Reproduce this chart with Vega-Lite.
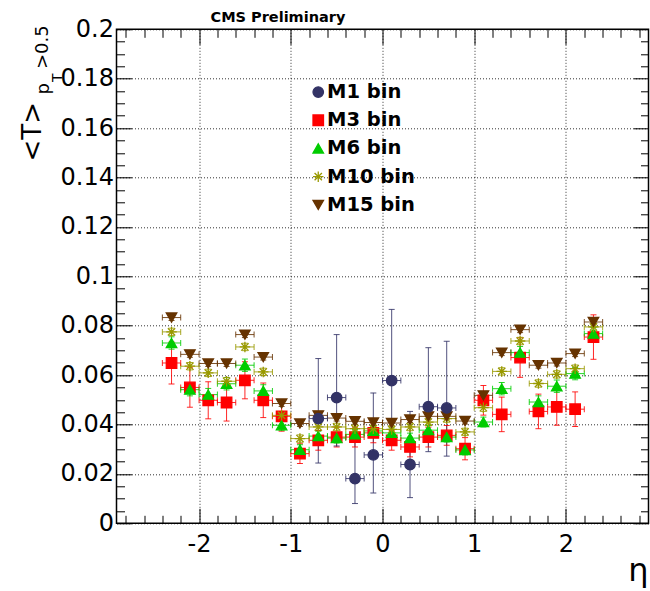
{
  "$schema": "https://vega.github.io/schema/vega-lite/v6.json",
  "width": 532,
  "height": 494,
  "autosize": {"type": "none"},
  "padding": {"left": 116.5, "top": 29.3, "right": 1.5, "bottom": 67.7},
  "background": "white",
  "config": {
    "view": {"stroke": "black", "strokeWidth": 1.5},
    "font": "DejaVu Sans"
  },
  "data": {"values": [
    {"s":"M3 bin","eta":-2.3,"v":0.0649,"lo":0.0564,"hi":0.0734,"xlo":-2.4,"xhi":-2.2},
    {"s":"M3 bin","eta":-2.1,"v":0.0550,"lo":0.0470,"hi":0.0630,"xlo":-2.2,"xhi":-2.0},
    {"s":"M3 bin","eta":-1.9,"v":0.0498,"lo":0.0423,"hi":0.0573,"xlo":-2.0,"xhi":-1.8},
    {"s":"M3 bin","eta":-1.7,"v":0.0489,"lo":0.0414,"hi":0.0564,"xlo":-1.8,"xhi":-1.6},
    {"s":"M3 bin","eta":-1.5,"v":0.0579,"lo":0.0504,"hi":0.0654,"xlo":-1.6,"xhi":-1.4},
    {"s":"M3 bin","eta":-1.3,"v":0.0498,"lo":0.0428,"hi":0.0568,"xlo":-1.4,"xhi":-1.2},
    {"s":"M3 bin","eta":-1.1,"v":0.0433,"lo":0.0373,"hi":0.0493,"xlo":-1.2,"xhi":-1.0},
    {"s":"M3 bin","eta":-0.9,"v":0.0282,"lo":0.0242,"hi":0.0322,"xlo":-1.0,"xhi":-0.8},
    {"s":"M3 bin","eta":-0.7,"v":0.0336,"lo":0.0296,"hi":0.0376,"xlo":-0.8,"xhi":-0.6},
    {"s":"M3 bin","eta":-0.5,"v":0.0349,"lo":0.0309,"hi":0.0389,"xlo":-0.6,"xhi":-0.4},
    {"s":"M3 bin","eta":-0.3,"v":0.0349,"lo":0.0309,"hi":0.0389,"xlo":-0.4,"xhi":-0.2},
    {"s":"M3 bin","eta":-0.1,"v":0.0366,"lo":0.0326,"hi":0.0406,"xlo":-0.2,"xhi":0.0},
    {"s":"M3 bin","eta":0.1,"v":0.0336,"lo":0.0296,"hi":0.0376,"xlo":0.0,"xhi":0.2},
    {"s":"M3 bin","eta":0.3,"v":0.0309,"lo":0.0269,"hi":0.0349,"xlo":0.2,"xhi":0.4},
    {"s":"M3 bin","eta":0.5,"v":0.0349,"lo":0.0309,"hi":0.0389,"xlo":0.4,"xhi":0.6},
    {"s":"M3 bin","eta":0.7,"v":0.0356,"lo":0.0316,"hi":0.0396,"xlo":0.6,"xhi":0.8},
    {"s":"M3 bin","eta":0.9,"v":0.0302,"lo":0.0257,"hi":0.0347,"xlo":0.8,"xhi":1.0},
    {"s":"M3 bin","eta":1.1,"v":0.0498,"lo":0.0438,"hi":0.0558,"xlo":1.0,"xhi":1.2},
    {"s":"M3 bin","eta":1.3,"v":0.0441,"lo":0.0371,"hi":0.0511,"xlo":1.2,"xhi":1.4},
    {"s":"M3 bin","eta":1.5,"v":0.0671,"lo":0.0591,"hi":0.0751,"xlo":1.4,"xhi":1.6},
    {"s":"M3 bin","eta":1.7,"v":0.0453,"lo":0.0383,"hi":0.0523,"xlo":1.6,"xhi":1.8},
    {"s":"M3 bin","eta":1.9,"v":0.0471,"lo":0.0397,"hi":0.0545,"xlo":1.8,"xhi":2.0},
    {"s":"M3 bin","eta":2.1,"v":0.0462,"lo":0.0392,"hi":0.0532,"xlo":2.0,"xhi":2.2},
    {"s":"M3 bin","eta":2.3,"v":0.0754,"lo":0.0664,"hi":0.0844,"xlo":2.2,"xhi":2.4},
    {"s":"M6 bin","eta":-2.3,"v":0.0730,"lo":0.0705,"hi":0.0755,"xlo":-2.4,"xhi":-2.2},
    {"s":"M6 bin","eta":-2.1,"v":0.0541,"lo":0.0516,"hi":0.0566,"xlo":-2.2,"xhi":-2.0},
    {"s":"M6 bin","eta":-1.9,"v":0.0521,"lo":0.0496,"hi":0.0546,"xlo":-2.0,"xhi":-1.8},
    {"s":"M6 bin","eta":-1.7,"v":0.0565,"lo":0.0540,"hi":0.0590,"xlo":-1.8,"xhi":-1.6},
    {"s":"M6 bin","eta":-1.5,"v":0.0640,"lo":0.0615,"hi":0.0665,"xlo":-1.6,"xhi":-1.4},
    {"s":"M6 bin","eta":-1.3,"v":0.0536,"lo":0.0511,"hi":0.0561,"xlo":-1.4,"xhi":-1.2},
    {"s":"M6 bin","eta":-1.1,"v":0.0397,"lo":0.0377,"hi":0.0417,"xlo":-1.2,"xhi":-1.0},
    {"s":"M6 bin","eta":-0.9,"v":0.0298,"lo":0.0278,"hi":0.0318,"xlo":-1.0,"xhi":-0.8},
    {"s":"M6 bin","eta":-0.7,"v":0.0353,"lo":0.0333,"hi":0.0373,"xlo":-0.8,"xhi":-0.6},
    {"s":"M6 bin","eta":-0.5,"v":0.0345,"lo":0.0325,"hi":0.0365,"xlo":-0.6,"xhi":-0.4},
    {"s":"M6 bin","eta":-0.3,"v":0.0360,"lo":0.0340,"hi":0.0380,"xlo":-0.4,"xhi":-0.2},
    {"s":"M6 bin","eta":-0.1,"v":0.0374,"lo":0.0354,"hi":0.0394,"xlo":-0.2,"xhi":0.0},
    {"s":"M6 bin","eta":0.1,"v":0.0366,"lo":0.0346,"hi":0.0386,"xlo":0.0,"xhi":0.2},
    {"s":"M6 bin","eta":0.3,"v":0.0345,"lo":0.0325,"hi":0.0365,"xlo":0.2,"xhi":0.4},
    {"s":"M6 bin","eta":0.5,"v":0.0377,"lo":0.0357,"hi":0.0397,"xlo":0.4,"xhi":0.6},
    {"s":"M6 bin","eta":0.7,"v":0.0349,"lo":0.0329,"hi":0.0369,"xlo":0.6,"xhi":0.8},
    {"s":"M6 bin","eta":0.9,"v":0.0297,"lo":0.0277,"hi":0.0317,"xlo":0.8,"xhi":1.0},
    {"s":"M6 bin","eta":1.1,"v":0.0410,"lo":0.0390,"hi":0.0430,"xlo":1.0,"xhi":1.2},
    {"s":"M6 bin","eta":1.3,"v":0.0545,"lo":0.0520,"hi":0.0570,"xlo":1.2,"xhi":1.4},
    {"s":"M6 bin","eta":1.5,"v":0.0691,"lo":0.0666,"hi":0.0716,"xlo":1.4,"xhi":1.6},
    {"s":"M6 bin","eta":1.7,"v":0.0491,"lo":0.0466,"hi":0.0516,"xlo":1.6,"xhi":1.8},
    {"s":"M6 bin","eta":1.9,"v":0.0555,"lo":0.0530,"hi":0.0580,"xlo":1.8,"xhi":2.0},
    {"s":"M6 bin","eta":2.1,"v":0.0606,"lo":0.0581,"hi":0.0631,"xlo":2.0,"xhi":2.2},
    {"s":"M6 bin","eta":2.3,"v":0.0768,"lo":0.0743,"hi":0.0793,"xlo":2.2,"xhi":2.4},
    {"s":"M10 bin","eta":-2.3,"v":0.0775,"lo":0.0760,"hi":0.0790,"xlo":-2.4,"xhi":-2.2},
    {"s":"M10 bin","eta":-2.1,"v":0.0636,"lo":0.0621,"hi":0.0651,"xlo":-2.2,"xhi":-2.0},
    {"s":"M10 bin","eta":-1.9,"v":0.0609,"lo":0.0594,"hi":0.0624,"xlo":-2.0,"xhi":-1.8},
    {"s":"M10 bin","eta":-1.7,"v":0.0575,"lo":0.0560,"hi":0.0590,"xlo":-1.8,"xhi":-1.6},
    {"s":"M10 bin","eta":-1.5,"v":0.0714,"lo":0.0699,"hi":0.0729,"xlo":-1.6,"xhi":-1.4},
    {"s":"M10 bin","eta":-1.3,"v":0.0613,"lo":0.0598,"hi":0.0628,"xlo":-1.4,"xhi":-1.2},
    {"s":"M10 bin","eta":-1.1,"v":0.0437,"lo":0.0422,"hi":0.0452,"xlo":-1.2,"xhi":-1.0},
    {"s":"M10 bin","eta":-0.9,"v":0.0343,"lo":0.0328,"hi":0.0358,"xlo":-1.0,"xhi":-0.8},
    {"s":"M10 bin","eta":-0.7,"v":0.0390,"lo":0.0375,"hi":0.0405,"xlo":-0.8,"xhi":-0.6},
    {"s":"M10 bin","eta":-0.5,"v":0.0390,"lo":0.0375,"hi":0.0405,"xlo":-0.6,"xhi":-0.4},
    {"s":"M10 bin","eta":-0.3,"v":0.0383,"lo":0.0368,"hi":0.0398,"xlo":-0.4,"xhi":-0.2},
    {"s":"M10 bin","eta":-0.1,"v":0.0383,"lo":0.0368,"hi":0.0398,"xlo":-0.2,"xhi":0.0},
    {"s":"M10 bin","eta":0.1,"v":0.0380,"lo":0.0365,"hi":0.0395,"xlo":0.0,"xhi":0.2},
    {"s":"M10 bin","eta":0.3,"v":0.0390,"lo":0.0375,"hi":0.0405,"xlo":0.2,"xhi":0.4},
    {"s":"M10 bin","eta":0.5,"v":0.0410,"lo":0.0395,"hi":0.0425,"xlo":0.4,"xhi":0.6},
    {"s":"M10 bin","eta":0.7,"v":0.0424,"lo":0.0409,"hi":0.0439,"xlo":0.6,"xhi":0.8},
    {"s":"M10 bin","eta":0.9,"v":0.0370,"lo":0.0355,"hi":0.0385,"xlo":0.8,"xhi":1.0},
    {"s":"M10 bin","eta":1.1,"v":0.0468,"lo":0.0453,"hi":0.0483,"xlo":1.0,"xhi":1.2},
    {"s":"M10 bin","eta":1.3,"v":0.0615,"lo":0.0600,"hi":0.0630,"xlo":1.2,"xhi":1.4},
    {"s":"M10 bin","eta":1.5,"v":0.0738,"lo":0.0723,"hi":0.0753,"xlo":1.4,"xhi":1.6},
    {"s":"M10 bin","eta":1.7,"v":0.0566,"lo":0.0551,"hi":0.0581,"xlo":1.6,"xhi":1.8},
    {"s":"M10 bin","eta":1.9,"v":0.0603,"lo":0.0588,"hi":0.0618,"xlo":1.8,"xhi":2.0},
    {"s":"M10 bin","eta":2.1,"v":0.0626,"lo":0.0611,"hi":0.0641,"xlo":2.0,"xhi":2.2},
    {"s":"M10 bin","eta":2.3,"v":0.0795,"lo":0.0780,"hi":0.0810,"xlo":2.2,"xhi":2.4},
    {"s":"M15 bin","eta":-2.3,"v":0.0833,"lo":0.0821,"hi":0.0845,"xlo":-2.4,"xhi":-2.2},
    {"s":"M15 bin","eta":-2.1,"v":0.0684,"lo":0.0672,"hi":0.0696,"xlo":-2.2,"xhi":-2.0},
    {"s":"M15 bin","eta":-1.9,"v":0.0647,"lo":0.0635,"hi":0.0659,"xlo":-2.0,"xhi":-1.8},
    {"s":"M15 bin","eta":-1.7,"v":0.0647,"lo":0.0635,"hi":0.0659,"xlo":-1.8,"xhi":-1.6},
    {"s":"M15 bin","eta":-1.5,"v":0.0764,"lo":0.0752,"hi":0.0776,"xlo":-1.6,"xhi":-1.4},
    {"s":"M15 bin","eta":-1.3,"v":0.0673,"lo":0.0661,"hi":0.0685,"xlo":-1.4,"xhi":-1.2},
    {"s":"M15 bin","eta":-1.1,"v":0.0485,"lo":0.0473,"hi":0.0497,"xlo":-1.2,"xhi":-1.0},
    {"s":"M15 bin","eta":-0.9,"v":0.0404,"lo":0.0392,"hi":0.0416,"xlo":-1.0,"xhi":-0.8},
    {"s":"M15 bin","eta":-0.7,"v":0.0437,"lo":0.0425,"hi":0.0449,"xlo":-0.8,"xhi":-0.6},
    {"s":"M15 bin","eta":-0.5,"v":0.0426,"lo":0.0414,"hi":0.0438,"xlo":-0.6,"xhi":-0.4},
    {"s":"M15 bin","eta":-0.3,"v":0.0413,"lo":0.0401,"hi":0.0425,"xlo":-0.4,"xhi":-0.2},
    {"s":"M15 bin","eta":-0.1,"v":0.0408,"lo":0.0396,"hi":0.0420,"xlo":-0.2,"xhi":0.0},
    {"s":"M15 bin","eta":0.1,"v":0.0406,"lo":0.0394,"hi":0.0418,"xlo":0.0,"xhi":0.2},
    {"s":"M15 bin","eta":0.3,"v":0.0420,"lo":0.0408,"hi":0.0432,"xlo":0.2,"xhi":0.4},
    {"s":"M15 bin","eta":0.5,"v":0.0433,"lo":0.0421,"hi":0.0445,"xlo":0.4,"xhi":0.6},
    {"s":"M15 bin","eta":0.7,"v":0.0433,"lo":0.0421,"hi":0.0445,"xlo":0.6,"xhi":0.8},
    {"s":"M15 bin","eta":0.9,"v":0.0414,"lo":0.0402,"hi":0.0426,"xlo":0.8,"xhi":1.0},
    {"s":"M15 bin","eta":1.1,"v":0.0518,"lo":0.0506,"hi":0.0530,"xlo":1.0,"xhi":1.2},
    {"s":"M15 bin","eta":1.3,"v":0.0691,"lo":0.0679,"hi":0.0703,"xlo":1.2,"xhi":1.4},
    {"s":"M15 bin","eta":1.5,"v":0.0784,"lo":0.0772,"hi":0.0796,"xlo":1.4,"xhi":1.6},
    {"s":"M15 bin","eta":1.7,"v":0.0640,"lo":0.0628,"hi":0.0652,"xlo":1.6,"xhi":1.8},
    {"s":"M15 bin","eta":1.9,"v":0.0649,"lo":0.0637,"hi":0.0661,"xlo":1.8,"xhi":2.0},
    {"s":"M15 bin","eta":2.1,"v":0.0687,"lo":0.0675,"hi":0.0699,"xlo":2.0,"xhi":2.2},
    {"s":"M15 bin","eta":2.3,"v":0.0815,"lo":0.0803,"hi":0.0827,"xlo":2.2,"xhi":2.4},
    {"s":"M1 bin","eta":-0.7,"v":0.0424,"lo":0.0244,"hi":0.0667,"xlo":-0.8,"xhi":-0.6},
    {"s":"M1 bin","eta":-0.5,"v":0.0509,"lo":0.0313,"hi":0.0764,"xlo":-0.6,"xhi":-0.4},
    {"s":"M1 bin","eta":-0.3,"v":0.0181,"lo":0.0080,"hi":0.0349,"xlo":-0.4,"xhi":-0.2},
    {"s":"M1 bin","eta":-0.1,"v":0.0277,"lo":0.0123,"hi":0.0528,"xlo":-0.2,"xhi":0.0},
    {"s":"M1 bin","eta":0.1,"v":0.0578,"lo":0.0353,"hi":0.0866,"xlo":0.0,"xhi":0.2},
    {"s":"M1 bin","eta":0.3,"v":0.0238,"lo":0.0104,"hi":0.0453,"xlo":0.2,"xhi":0.4},
    {"s":"M1 bin","eta":0.5,"v":0.0472,"lo":0.0290,"hi":0.0711,"xlo":0.4,"xhi":0.6},
    {"s":"M1 bin","eta":0.7,"v":0.0467,"lo":0.0272,"hi":0.0737,"xlo":0.6,"xhi":0.8}
  ]},
  "resolve": {"axis": {"x": "independent", "y": "independent"}},
  "layer": [
    {
      "mark": {"type": "rule", "strokeWidth": 1, "opacity": 0.85},
      "encoding": {
        "x": {"field": "xlo", "type": "quantitative", "scale": {"domain": [-2.9, 2.9], "nice": false, "zero": false},
          "axis": {"orient": "bottom", "values": [-2, -1, 0, 1, 2], "labelExpr": "'' + datum.value", "labelFont": "DejaVu Sans", "labelFontSize": 24, "labelColor": "black", "labelPadding": 9, "labelFlush": false, "labelOverlap": false, "ticks": false, "domain": false, "grid": true, "gridColor": "black", "gridDash": [1, 2], "gridOpacity": 0.8, "gridWidth": 1, "title": "η", "titleFont": "DejaVu Sans", "titleFontSize": 32, "titleFontWeight": "normal", "titleColor": "black", "titleAlign": "right", "titleBaseline": "alphabetic", "titleAngle": 0, "titleX": 531.5, "titleY": 57}},
        "x2": {"field": "xhi"},
        "y": {"field": "v", "type": "quantitative", "scale": {"domain": [0, 0.2], "nice": false, "zero": false},
          "axis": {"orient": "left", "values": [0, 0.02, 0.04, 0.06, 0.08, 0.1, 0.12, 0.14, 0.16, 0.18, 0.2], "labelExpr": "'' + datum.value", "labelFont": "DejaVu Sans", "labelFontSize": 24, "labelColor": "black", "labelPadding": 3, "labelFlush": false, "labelOverlap": false, "ticks": false, "domain": false, "grid": true, "gridColor": "black", "gridDash": [1, 2], "gridOpacity": 0.8, "gridWidth": 1, "title": "<T>", "titleFont": "DejaVu Sans", "titleFontSize": 26, "titleFontWeight": "normal", "titleColor": "black", "titleAngle": -90, "titleAlign": "center", "titleBaseline": "alphabetic", "titleX": -76.5, "titleY": 102}},
        "stroke": {"field": "s", "type": "nominal", "scale": {"domain": ["M15 bin", "M10 bin", "M6 bin", "M3 bin", "M1 bin"], "range": ["#663300", "#999900", "#00cc00", "#ff0000", "#333366"]}, "legend": null}
      }
    },
    {
      "mark": {"type": "rule", "strokeWidth": 1, "opacity": 0.85},
      "encoding": {
        "x": {"field": "eta", "type": "quantitative", "scale": {"domain": [-2.9, 2.9], "nice": false, "zero": false},
          "axis": {"orient": "bottom", "values": [-2, -1, 0, 1, 2], "labels": false, "domain": false, "grid": false, "ticks": true, "tickColor": "black", "tickWidth": 1, "tickSize": 15, "offset": -15, "title": null}},
        "y": {"field": "lo", "type": "quantitative", "scale": {"domain": [0, 0.2], "nice": false, "zero": false},
          "axis": {"orient": "left", "values": [0, 0.02, 0.04, 0.06, 0.08, 0.1, 0.12, 0.14, 0.16, 0.18, 0.2], "labels": false, "domain": false, "grid": false, "ticks": true, "tickColor": "black", "tickWidth": 1, "tickSize": 15, "offset": -15, "title": "p", "titleFont": "DejaVu Sans", "titleFontSize": 18, "titleFontWeight": "normal", "titleColor": "black", "titleAngle": -90, "titleAlign": "left", "titleBaseline": "alphabetic", "titleX": -82.7, "titleY": 64.7}},
        "y2": {"field": "hi"},
        "stroke": {"field": "s", "type": "nominal", "legend": null}
      }
    },
    {
      "mark": {"type": "tick", "orient": "vertical", "size": 6, "thickness": 1, "opacity": 0.85},
      "encoding": {
        "x": {"field": "xlo", "type": "quantitative", "scale": {"domain": [-2.9, 2.9], "nice": false, "zero": false},
          "axis": {"orient": "bottom", "values": [-2.8, -2.6, -2.4, -2.2, -1.8, -1.6, -1.4, -1.2, -0.8, -0.6, -0.4, -0.2, 0.2, 0.4, 0.6, 0.8, 1.2, 1.4, 1.6, 1.8, 2.2, 2.4, 2.6, 2.8], "labels": false, "domain": false, "grid": false, "ticks": true, "tickColor": "black", "tickWidth": 1, "tickSize": 8, "offset": -8, "title": null}},
        "y": {"field": "v", "type": "quantitative", "scale": {"domain": [0, 0.2], "nice": false, "zero": false},
          "axis": {"orient": "left", "values": [0.005, 0.01, 0.015, 0.025, 0.03, 0.035, 0.045, 0.05, 0.055, 0.065, 0.07, 0.075, 0.085, 0.09, 0.095, 0.105, 0.11, 0.115, 0.125, 0.13, 0.135, 0.145, 0.15, 0.155, 0.165, 0.17, 0.175, 0.185, 0.19, 0.195], "labels": false, "domain": false, "grid": false, "ticks": true, "tickColor": "black", "tickWidth": 1, "tickSize": 8, "offset": -8, "title": "T", "titleFont": "DejaVu Sans", "titleFontSize": 14, "titleFontWeight": "normal", "titleColor": "black", "titleAngle": -90, "titleAlign": "left", "titleBaseline": "alphabetic", "titleX": -63, "titleY": 52.2}},
        "fill": {"field": "s", "type": "nominal", "scale": {"domain": ["M15 bin", "M10 bin", "M6 bin", "M3 bin", "M1 bin"], "range": ["#663300", "#999900", "#00cc00", "#ff0000", "#333366"]}, "legend": null}
      }
    },
    {
      "mark": {"type": "tick", "orient": "vertical", "size": 6, "thickness": 1, "opacity": 0.85},
      "encoding": {
        "x": {"field": "xhi", "type": "quantitative", "scale": {"domain": [-2.9, 2.9], "nice": false, "zero": false},
          "axis": {"orient": "top", "values": [-2, -1, 0, 1, 2], "labels": false, "domain": false, "grid": false, "ticks": true, "tickColor": "black", "tickWidth": 1, "tickSize": 15, "offset": -15, "title": "CMS Preliminary", "titleFont": "DejaVu Sans", "titleFontSize": 14.5, "titleFontWeight": "bold", "titleColor": "black", "titleAngle": 0, "titleAlign": "left", "titleBaseline": "alphabetic", "titleX": 93.5, "titleY": -23.3}},
        "y": {"field": "v", "type": "quantitative", "scale": {"domain": [0, 0.2], "nice": false, "zero": false},
          "axis": {"orient": "right", "values": [0, 0.02, 0.04, 0.06, 0.08, 0.1, 0.12, 0.14, 0.16, 0.18, 0.2], "labels": false, "domain": false, "grid": false, "ticks": true, "tickColor": "black", "tickWidth": 1, "tickSize": 15, "offset": -15, "title": ">0.5", "titleFont": "DejaVu Sans", "titleFontSize": 18, "titleFontWeight": "normal", "titleColor": "black", "titleAngle": -90, "titleAlign": "left", "titleBaseline": "alphabetic", "titleX": -586, "titleY": 39.2}},
        "fill": {"field": "s", "type": "nominal", "legend": null}
      }
    },
    {
      "mark": {"type": "tick", "orient": "horizontal", "size": 6, "thickness": 1, "opacity": 0.85},
      "encoding": {
        "x": {"field": "eta", "type": "quantitative", "scale": {"domain": [-2.9, 2.9], "nice": false, "zero": false},
          "axis": {"orient": "top", "values": [-2.8, -2.6, -2.4, -2.2, -1.8, -1.6, -1.4, -1.2, -0.8, -0.6, -0.4, -0.2, 0.2, 0.4, 0.6, 0.8, 1.2, 1.4, 1.6, 1.8, 2.2, 2.4, 2.6, 2.8], "labels": false, "domain": false, "grid": false, "ticks": true, "tickColor": "black", "tickWidth": 1, "tickSize": 8, "offset": -8, "title": null}},
        "y": {"field": "lo", "type": "quantitative", "scale": {"domain": [0, 0.2], "nice": false, "zero": false},
          "axis": {"orient": "right", "values": [0.005, 0.01, 0.015, 0.025, 0.03, 0.035, 0.045, 0.05, 0.055, 0.065, 0.07, 0.075, 0.085, 0.09, 0.095, 0.105, 0.11, 0.115, 0.125, 0.13, 0.135, 0.145, 0.15, 0.155, 0.165, 0.17, 0.175, 0.185, 0.19, 0.195], "labels": false, "domain": false, "grid": false, "ticks": true, "tickColor": "black", "tickWidth": 1, "tickSize": 8, "offset": -8, "title": null}},
        "fill": {"field": "s", "type": "nominal", "legend": null}
      }
    },
    {
      "mark": {"type": "tick", "orient": "horizontal", "size": 6, "thickness": 1, "opacity": 0.85},
      "encoding": {
        "x": {"field": "eta", "type": "quantitative", "scale": {"domain": [-2.9, 2.9], "nice": false, "zero": false}, "axis": null},
        "y": {"field": "hi", "type": "quantitative", "scale": {"domain": [0, 0.2], "nice": false, "zero": false}, "axis": null},
        "fill": {"field": "s", "type": "nominal", "legend": null}
      }
    },
    {
      "mark": {"type": "point", "filled": true, "size": 110, "strokeWidth": 1.3, "opacity": 1},
      "encoding": {
        "x": {"field": "eta", "type": "quantitative", "scale": {"domain": [-2.9, 2.9], "nice": false, "zero": false}, "axis": null},
        "y": {"field": "v", "type": "quantitative", "scale": {"domain": [0, 0.2], "nice": false, "zero": false}, "axis": null},
        "color": {"field": "s", "type": "nominal", "scale": {"domain": ["M1 bin", "M3 bin", "M6 bin", "M10 bin", "M15 bin"], "range": ["#333366", "#ff0000", "#00cc00", "#999900", "#663300"]},
          "legend": {"title": null, "orient": "none", "legendX": 192, "legendY": 53, "padding": 0, "labelFont": "DejaVu Sans", "labelFontSize": 19.5, "labelFontWeight": "bold", "labelColor": "black", "labelOffset": -1, "rowPadding": 7.2, "symbolSize": 110, "symbolStrokeWidth": 1.3, "symbolOpacity": 1,
            "encode": {"symbols": {"update": {"stroke": {"scale": "stroke", "field": "value"}, "strokeWidth": {"value": 1.3}}}}}},
        "stroke": {"field": "s", "type": "nominal", "legend": null},
        "shape": {"field": "s", "type": "nominal", "scale": {"domain": ["M1 bin", "M3 bin", "M6 bin", "M10 bin", "M15 bin"], "range": ["circle", "square", "triangle-up", "M0,-1L0,1M-1,0L1,0M-0.7,-0.7L0.7,0.7M-0.7,0.7L0.7,-0.7", "triangle-down"]},
          "legend": {"title": null, "orient": "none", "legendX": 192, "legendY": 53, "padding": 0, "labelFont": "DejaVu Sans", "labelFontSize": 19.5, "labelFontWeight": "bold", "labelColor": "black", "labelOffset": -1, "rowPadding": 7.2, "symbolSize": 110, "symbolStrokeWidth": 1.3, "symbolOpacity": 1}}
      }
    }
  ]
}
